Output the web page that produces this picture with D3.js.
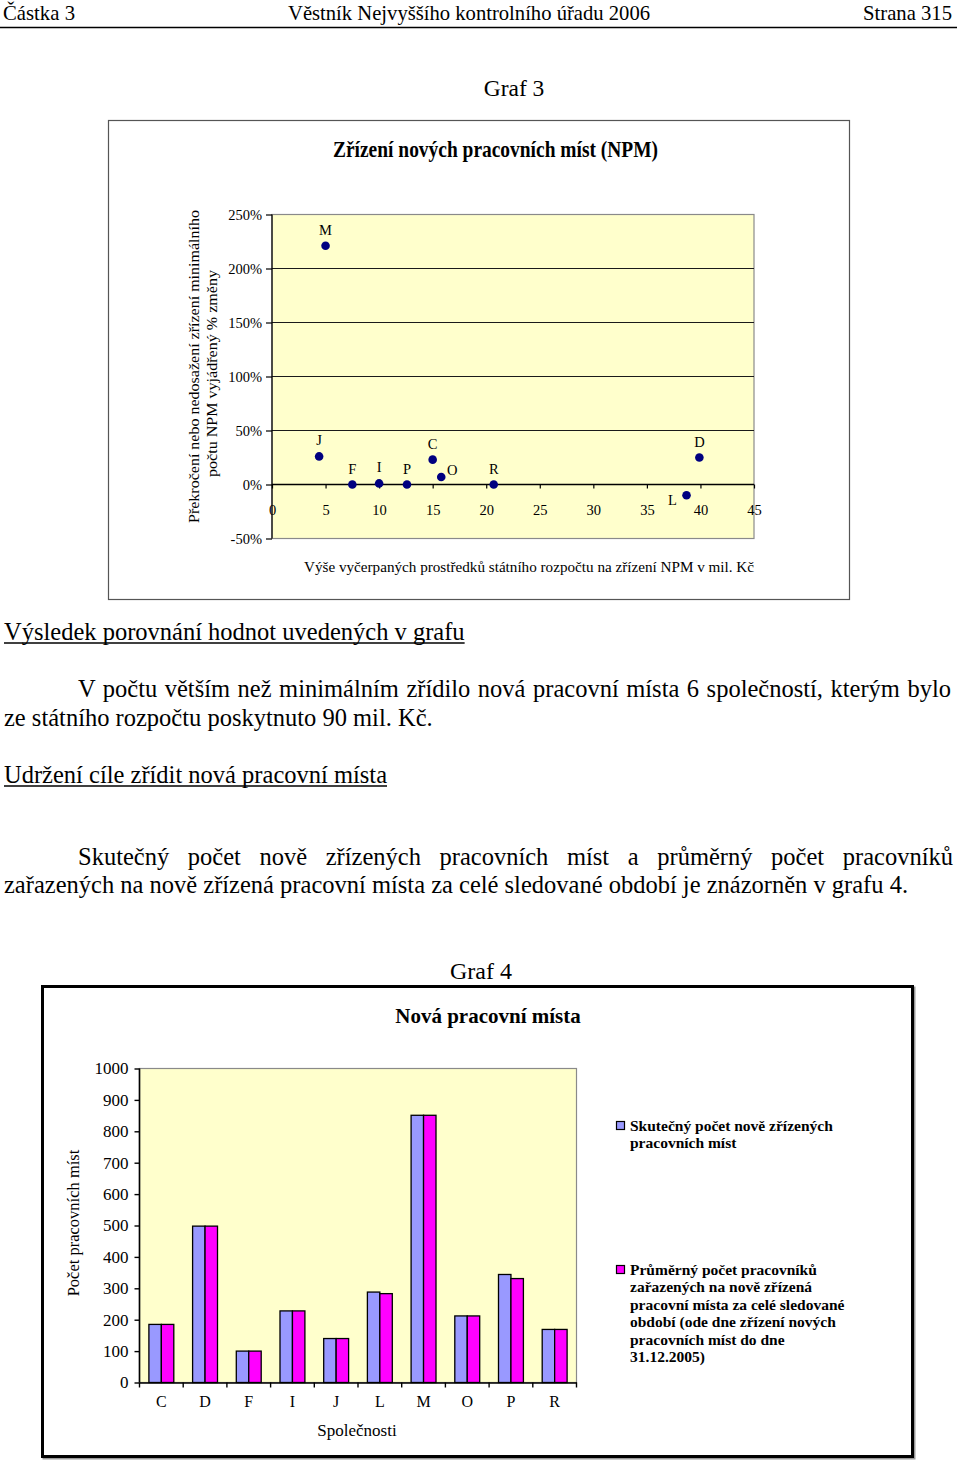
<!DOCTYPE html>
<html><head><meta charset="utf-8">
<script src="https://cdn.jsdelivr.net/npm/d3@7"></script>
<style>
body{margin:0;background:#fff}
svg{display:block}
</style>
</head><body>
<svg id="page" width="960" height="1460"></svg>
<script>
// ---------- Graf 3 data ----------
const companies3 = ["M","J","F","I","P","C","O","R","L","D"];
const spending3  = [5.0, 4.4, 7.5, 10.0, 12.6, 15.0, 15.8, 20.7, 38.7, 39.9];
const change3    = [221, 26, 0, 1, 0, 23, 7, 0, -10, 25];
const labelSide3 = ["above","above","above","above","above","above","right","above","left","above"];
const xTicks3 = [0,5,10,15,20,25,30,35,40,45];
const yTicks3 = [-50,0,50,100,150,200,250];

// ---------- Graf 4 data ----------
const companies4 = ["C","D","F","I","J","L","M","O","P","R"];
const actualJobs = [185, 498, 100, 228, 140, 288, 851, 212, 344, 169];
const avgWorkers = [185, 498, 100, 228, 140, 283, 851, 212, 331, 169];
const yTicks4 = [0,100,200,300,400,500,600,700,800,900,1000];
const legend1Lines = ["Skutečný počet nově zřízených","pracovních míst"];
const legend2Lines = ["Průměrný počet pracovníků","zařazených na nově zřízená","pracovní místa za celé sledované","období (ode dne zřízení nových","pracovních míst do dne","31.12.2005)"];

const SERIF = "'Liberation Serif', 'Times New Roman', Times, serif";
const svg = d3.select("#page").attr("font-family", SERIF).style("font-family", SERIF);

// ---------- page header ----------
svg.append("text").attr("x",3).attr("y",20).attr("font-size",21).attr("textLength",72).attr("lengthAdjust","spacingAndGlyphs").text("Částka 3");
svg.append("text").attr("x",288).attr("y",20).attr("font-size",21).attr("textLength",362).attr("lengthAdjust","spacingAndGlyphs").text("Věstník Nejvyššího kontrolního úřadu 2006");
svg.append("text").attr("x",863).attr("y",20).attr("font-size",21).attr("textLength",89).attr("lengthAdjust","spacingAndGlyphs").text("Strana 315");
svg.append("line").attr("x1",0).attr("x2",957).attr("y1",27.5).attr("y2",27.5).attr("stroke","#000").attr("stroke-width",1.5);

// ---------- Graf 3 ----------
svg.append("text").attr("x",514).attr("y",96).attr("font-size",23.5).attr("text-anchor","middle").text("Graf 3");
svg.append("rect").attr("x",108.5).attr("y",120.5).attr("width",741).attr("height",479).attr("fill","#fff").attr("stroke","#555").attr("stroke-width",1.2);
svg.append("text").attr("x",333).attr("y",157).attr("font-size",24).attr("font-weight","bold").attr("textLength",325).attr("lengthAdjust","spacingAndGlyphs").text("Zřízení nových pracovních míst (NPM)");

const x3 = d3.scaleLinear().domain([0,45]).range([272,754]);
const y3 = d3.scaleLinear().domain([-50,250]).range([538.5,214.5]);
const g3 = svg.append("g");
g3.append("rect").attr("x",x3(0)).attr("y",y3(250)).attr("width",x3(45)-x3(0)).attr("height",y3(-50)-y3(250))
  .attr("fill","#FFFFCC").attr("stroke","#8a8a8a").attr("stroke-width",1.2);
g3.selectAll(".grid").data(yTicks3.filter(d=>d>0 && d<250)).join("line")
  .attr("x1",x3(0)).attr("x2",x3(45)).attr("y1",d=>y3(d)).attr("y2",d=>y3(d))
  .attr("stroke","#1a1a1a").attr("stroke-width",1.2);
const ya3 = g3.append("g").attr("transform",`translate(${x3(0)},0)`)
  .call(d3.axisLeft(y3).tickValues(yTicks3).tickSize(6).tickPadding(4).tickFormat(d=>d+"%"));
ya3.select(".domain").attr("stroke","#000").attr("stroke-width",1.2).attr("d",`M0,${y3(250)}V${y3(-50)}`);
ya3.selectAll(".tick line").attr("stroke","#000").attr("stroke-width",1.2);
ya3.selectAll(".tick text").attr("font-size",14.5).attr("fill","#000");
const xa3 = g3.append("g").attr("transform",`translate(0,${y3(0)})`)
  .call(d3.axisBottom(x3).tickValues(xTicks3).tickSize(4).tickPadding(16));
xa3.select(".domain").attr("stroke","#000").attr("stroke-width",1.4).attr("d",`M${x3(0)},0H${x3(45)}`);
xa3.selectAll(".tick line").attr("stroke","#000").attr("stroke-width",1.2);
xa3.selectAll(".tick text").attr("font-size",14.5).attr("fill","#000");
const pts = companies3.map((c,i)=>({c, x:spending3[i], y:change3[i], side:labelSide3[i]}));
g3.selectAll(".pt").data(pts).join("circle").attr("cx",d=>x3(d.x)).attr("cy",d=>y3(d.y)).attr("r",4.3).attr("fill","#000080");
g3.selectAll(".lbl").data(pts).join("text")
  .attr("x",d=>x3(d.x) + (d.side==="right"?11:d.side==="left"?-14:0))
  .attr("y",d=>y3(d.y) + (d.side==="above"?-11:d.side==="left"?10:-2))
  .attr("text-anchor","middle").attr("font-size",14.5).text(d=>d.c);
svg.append("text").attr("transform","translate(199,366.5) rotate(-90)").attr("text-anchor","middle").attr("font-size",15)
  .attr("textLength",313).attr("lengthAdjust","spacingAndGlyphs").text("Překročení nebo nedosažení zřízení minimálního");
svg.append("text").attr("transform","translate(217,373.5) rotate(-90)").attr("text-anchor","middle").attr("font-size",15)
  .attr("textLength",207).attr("lengthAdjust","spacingAndGlyphs").text("počtu NPM vyjádřený % změny");
svg.append("text").attr("x",304).attr("y",572).attr("font-size",15)
  .attr("textLength",450).attr("lengthAdjust","spacingAndGlyphs").text("Výše vyčerpaných prostředků státního rozpočtu na zřízení NPM v mil. Kč");

// ---------- paragraphs ----------
const FS = 24.5;
function para(x, y, str, target, underline){
  const t = svg.append("text").attr("x",x).attr("y",y).attr("font-size",FS).style("font-family",SERIF).text(str);
  const w = t.node().getComputedTextLength();
  if(target){
    const n = str.split(" ").length-1;
    t.style("word-spacing", ((target-w)/n)+"px");
  }
  if(underline){
    svg.append("line").attr("x1",x).attr("x2",x+w).attr("y1",y+3).attr("y2",y+3).attr("stroke","#000").attr("stroke-width",1.4);
  }
  return t;
}
para(4, 640, "Výsledek porovnání hodnot uvedených v grafu", null, true);
para(78, 697, "V počtu větším než minimálním zřídilo nová pracovní místa 6 společností, kterým bylo", 873, false);
para(4, 726, "ze státního rozpočtu poskytnuto 90 mil. Kč.", null, false);
para(4, 783, "Udržení cíle zřídit nová pracovní místa", null, true);
para(78, 865, "Skutečný počet nově zřízených pracovních míst a průměrný počet pracovníků", 875, false);
para(4, 893, "zařazených na nově zřízená pracovní místa za celé sledované období je znázorněn v grafu 4.", null, false);

// ---------- Graf 4 ----------
svg.append("text").attr("x",481).attr("y",979).attr("font-size",24).attr("text-anchor","middle").text("Graf 4");
svg.append("rect").attr("x",43.5).attr("y",987.5).attr("width",871).attr("height",471).attr("fill","none").attr("stroke","#999").attr("stroke-width",2);
svg.append("rect").attr("x",42.5).attr("y",986.5).attr("width",870).attr("height",470).attr("fill","#fff").attr("stroke","#000").attr("stroke-width",3);
svg.append("text").attr("x",488).attr("y",1023).attr("font-size",21).attr("font-weight","bold").attr("text-anchor","middle").text("Nová pracovní místa");

const x4 = d3.scaleBand().domain(companies4).range([139.5,576.5]).paddingInner(0.43).paddingOuter(0.215);
const xs4 = d3.scaleBand().domain(["a","b"]).range([0,x4.bandwidth()]);
const y4 = d3.scaleLinear().domain([0,1000]).range([1382.5,1068.5]);
const g4 = svg.append("g");
g4.append("rect").attr("x",139.5).attr("y",y4(1000)).attr("width",437).attr("height",y4(0)-y4(1000))
  .attr("fill","#FFFFCC").attr("stroke","#8a8a8a").attr("stroke-width",1.2);
const bars = companies4.map((c,i)=>({c, a:actualJobs[i], b:avgWorkers[i]}));
const grp = g4.selectAll(".grp").data(bars).join("g").attr("transform",d=>`translate(${x4(d.c)},0)`);
grp.append("rect").attr("x",xs4("a")).attr("width",xs4.bandwidth()).attr("y",d=>y4(d.a)).attr("height",d=>y4(0)-y4(d.a))
  .attr("fill","#9999FF").attr("stroke","#000").attr("stroke-width",1.3);
grp.append("rect").attr("x",xs4("b")).attr("width",xs4.bandwidth()).attr("y",d=>y4(d.b)).attr("height",d=>y4(0)-y4(d.b))
  .attr("fill","#FF00FF").attr("stroke","#000").attr("stroke-width",1.3);
const ya4 = g4.append("g").attr("transform","translate(139.5,0)")
  .call(d3.axisLeft(y4).tickValues(yTicks4).tickSize(5).tickPadding(6).tickFormat(d3.format("d")));
ya4.select(".domain").attr("stroke","#000").attr("stroke-width",1.6).attr("d",`M0,${y4(1000)}V${y4(0)}`);
ya4.selectAll(".tick line").attr("stroke","#000").attr("stroke-width",1.4);
ya4.selectAll(".tick text").attr("font-size",17).attr("fill","#000");
const xa4 = g4.append("g").attr("transform",`translate(0,${y4(0)})`)
  .call(d3.axisBottom(x4).tickSize(0).tickPadding(13));
xa4.select(".domain").attr("stroke","#000").attr("stroke-width",1.6);
xa4.selectAll(".tick text").attr("font-size",16).attr("fill","#000");
g4.selectAll(".bt").data(d3.range(companies4.length+1)).join("line")
  .attr("x1",k=>x4.range()[0]+k*x4.step()).attr("x2",k=>x4.range()[0]+k*x4.step())
  .attr("y1",y4(0)).attr("y2",y4(0)+5).attr("stroke","#000").attr("stroke-width",1.4);
svg.append("text").attr("x",357).attr("y",1436).attr("font-size",17).attr("text-anchor","middle").text("Společnosti");
svg.append("text").attr("transform","translate(79,1223) rotate(-90)").attr("font-size",16.5).attr("text-anchor","middle").text("Počet pracovních míst");
const leg = [{color:"#9999FF", lines:legend1Lines, y:1131},{color:"#FF00FF", lines:legend2Lines, y:1275}];
leg.forEach(l=>{
  svg.append("rect").attr("x",616.5).attr("y",l.y-9.5).attr("width",8).attr("height",8).attr("fill",l.color).attr("stroke","#000").attr("stroke-width",1.2);
  l.lines.forEach((s,i)=>{
    svg.append("text").attr("x",630).attr("y",l.y+i*17.4).attr("font-size",15.5).attr("font-weight","bold").text(s);
  });
});
// make sure every text uses the serif face
svg.selectAll("text").attr("font-family",SERIF).style("font-family",SERIF);
</script>
</body></html>
